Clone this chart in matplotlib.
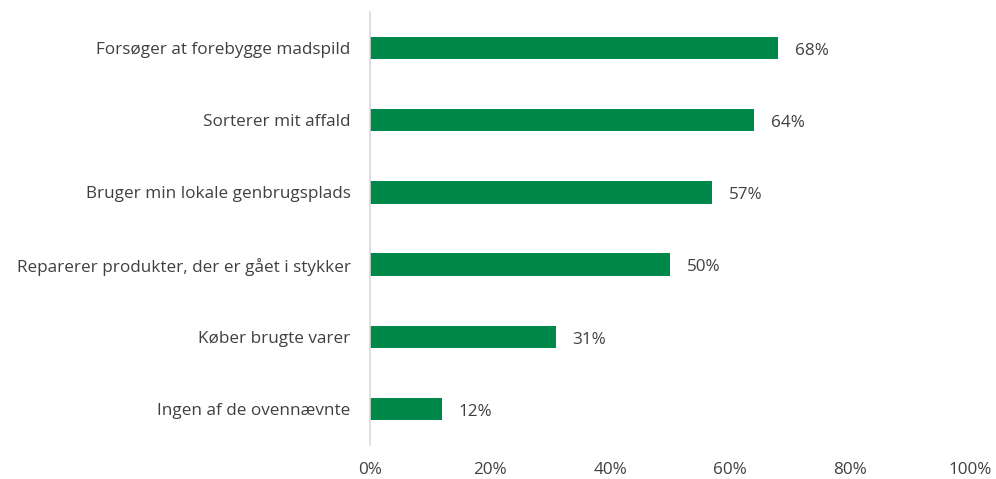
import matplotlib.pyplot as plt

# Data
categories = ['Forsøger at forebygge madspild',
              'Sorterer mit affald',
              'Bruger min lokale genbrugsplads',
              'Reparerer produkter, der er gået i stykker',
              'Køber brugte varer',
              'Ingen af de ovennævnte']
values = [68, 64, 57, 50, 31, 12]
xticks = [0, 20, 40, 60, 80, 100]

plt.rcParams['font.family'] = ['Open Sans', 'DejaVu Sans']
text_color = '#404040'
bar_color = '#00884B'

fig = plt.figure(figsize=(9.96, 4.79), dpi=100)
ax = fig.add_axes([370 / 996, 1 - 445 / 479, 600 / 996, 433 / 479])

ypos = list(range(len(categories)))[::-1]
ax.barh(ypos, values, height=0.31, color=bar_color)

for y, v in zip(ypos, values):
    ax.annotate(f'{v}%', (v, y), xytext=(12, -2), textcoords='offset points',
                va='center', ha='left', fontsize=12.3, color=text_color)

ax.set_xlim(0, 100)
ax.set_ylim(-0.5, 5.5)
ax.set_yticks(ypos)
ax.set_yticklabels(categories)
ax.set_xticks(xticks)
ax.set_xticklabels([f'{t}%' for t in xticks])
ax.tick_params(axis='both', length=0, labelsize=12.3, labelcolor=text_color)
ax.tick_params(axis='y', pad=14)
ax.tick_params(axis='x', pad=12)

for side in ['top', 'right', 'bottom']:
    ax.spines[side].set_visible(False)
ax.spines['left'].set_color('#d9d9d9')
ax.spines['left'].set_linewidth(1.2)

fig.savefig('out.png', dpi=100)
